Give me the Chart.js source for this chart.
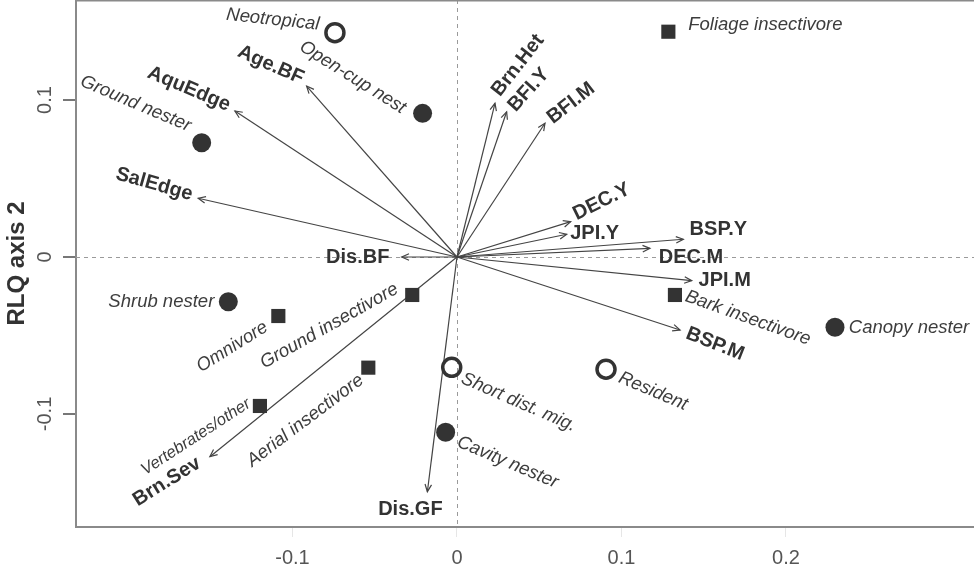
<!DOCTYPE html>
<html><head><meta charset="utf-8">
<script src="https://cdn.jsdelivr.net/npm/chart.js@4.4.1/dist/chart.umd.min.js"></script>
<style>html,body{margin:0;padding:0;background:#fff;}#wrap{width:974px;height:569px;position:relative;}</style>
</head><body><div id="wrap"><canvas id="c"></canvas></div>
<script>
// ---- data ----
const traitNames = ['Neotropical','Resident','Short dist. mig.','Open-cup nest','Ground nester','Shrub nester','Cavity nester','Canopy nester','Foliage insectivore','Omnivore','Ground insectivore','Aerial insectivore','Vertebrates/other','Bark insectivore'];
const traitX = [-0.0742, 0.0906, -0.0032, -0.0209, -0.1552, -0.1390, -0.0069, 0.2298, 0.1285, -0.1086, -0.0272, -0.0539, -0.1198, 0.1325];
const traitY = [0.1429, -0.0715, -0.0703, 0.0915, 0.0728, -0.0285, -0.1117, -0.0448, 0.1435, -0.0376, -0.0242, -0.0705, -0.0949, -0.0242];
const traitGroup = ['migration','migration','migration','nest','nest','nest','nest','nest','diet','diet','diet','diet','diet','diet'];

const envNames = ['Age.BF','AquEdge','SalEdge','Dis.BF','Brn.Het','BFI.Y','BFI.M','DEC.Y','JPI.Y','BSP.Y','DEC.M','JPI.M','BSP.M','Brn.Sev','Dis.GF'];
const envX = [-0.0914,-0.1350,-0.1573,-0.0336,0.0231,0.0302,0.0535,0.0691,0.0667,0.1376,0.1173,0.1427,0.1356,-0.1502,-0.0180];
const envY = [0.1089,0.0930,0.0374,0.0000,0.0979,0.0925,0.0852,0.0225,0.0145,0.0113,0.0055,-0.0151,-0.0465,-0.1272,-0.1495];

const xTicks = [-0.1, 0, 0.1, 0.2];
const yTicks = [-0.1, 0, 0.1];
const yTitle = 'RLQ axis 2';

// ---- label layout (pixel offsets from the point, rotation in degrees) ----
const traitLabelLayout = {
  'Neotropical': [-62,-13,6],
  'Resident': [47,22,23],
  'Short dist. mig.': [67,35,23.5],
  'Open-cup nest': [-70,-36,32],
  'Ground nester': [-66,-39,23],
  'Shrub nester': [-67,0,0],
  'Cavity nester': [62,30,23],
  'Canopy nester': [74,1,0],
  'Foliage insectivore': [97,-7,0],
  'Omnivore': [-46,31,-32],
  'Ground insectivore': [-83,31,-29.5],
  'Aerial insectivore': [-63,53,-37],
  'Vertebrates/other': [-64,31,-33],
  'Bark insectivore': [73,23,19.7]
};
const envLabelLayout = {
  'Age.BF': [-36,-21,24],
  'AquEdge': [-46,-22,23],
  'SalEdge': [-44,-14,15.5],
  'Dis.BF': [-44,0,0],
  'Brn.Het': [23,-38,-52],
  'BFI.Y': [22,-22,-48],
  'BFI.M': [26,-20,-38],
  'DEC.Y': [31,-20,-26.5],
  'JPI.Y': [28,-1,0],
  'BSP.Y': [35,-10,0],
  'DEC.M': [41,9,0],
  'JPI.M': [33,0,0],
  'BSP.M': [35,14,21.5],
  'Brn.Sev': [-43,25,-32],
  'Dis.GF': [-17,18,0]
};

const FAMILY = '"Liberation Sans", Arial, Helvetica, sans-serif';
Chart.defaults.font.family = FAMILY;

const groupStyle = {
  nest: {pointStyle:'circle', radius:9.5, backgroundColor:'#333', borderColor:'#333', borderWidth:0},
  migration: {pointStyle:'circle', radius:9, backgroundColor:'rgba(255,255,255,0)', borderColor:'#333', borderWidth:3.5},
  diet: {pointStyle:'rect', radius:10, backgroundColor:'#333', borderColor:'#333', borderWidth:0}
};

const datasets = [];
['nest','migration','diet'].forEach(g => {
  const pts = [];
  traitNames.forEach((n,i) => { if (traitGroup[i] === g) pts.push({x: traitX[i], y: traitY[i], name: n}); });
  const s = groupStyle[g];
  datasets.push({
    label: g, data: pts, order: 0, showLine: false, clip: false,
    pointStyle: s.pointStyle, pointRadius: s.radius, pointHoverRadius: s.radius,
    pointBackgroundColor: s.backgroundColor, pointBorderColor: s.borderColor, pointBorderWidth: s.borderWidth
  });
});
envNames.forEach((n,i) => {
  datasets.push({
    label: n, data: [{x:0,y:0},{x:envX[i],y:envY[i]}], order: 1, showLine: true, clip: false,
    borderColor:'#444', borderWidth:1.2, pointRadius:0, fill:false, isArrow:true
  });
});

function drawText(ctx, txt, x, y, rot, font, color) {
  ctx.save();
  ctx.translate(x, y);
  ctx.rotate(rot * Math.PI / 180);
  ctx.font = font; ctx.fillStyle = color;
  ctx.textAlign = 'center'; ctx.textBaseline = 'middle';
  ctx.fillText(txt, 0, 0);
  ctx.restore();
}

const framePlugin = {
  id: 'frame',
  beforeDatasetsDraw(chart) {
    const {ctx, chartArea: a, scales: {x, y}} = chart;
    ctx.save();
    ctx.strokeStyle = '#9a9a9a'; ctx.lineWidth = 1; ctx.setLineDash([4,4]);
    const x0 = Math.round(x.getPixelForValue(0)) + 0.5, y0 = Math.round(y.getPixelForValue(0)) + 0.5;
    ctx.beginPath(); ctx.moveTo(x0, a.top); ctx.lineTo(x0, a.bottom); ctx.stroke();
    ctx.beginPath(); ctx.moveTo(a.left, y0); ctx.lineTo(a.right, y0); ctx.stroke();
    ctx.setLineDash([]);
    ctx.strokeStyle = '#8a8a8a'; ctx.lineWidth = 2;
    ctx.beginPath(); ctx.moveTo(a.left, a.top + 0.5); ctx.lineTo(a.right, a.top + 0.5); ctx.stroke();
    ctx.restore();
  },
  afterDatasetsDraw(chart) {
    const {ctx, scales: {x, y}} = chart;
    ctx.save();
    // arrowheads
    ctx.strokeStyle = '#444'; ctx.lineWidth = 1.2;
    chart.data.datasets.forEach((ds, di) => {
      if (!ds.isArrow) return;
      const meta = chart.getDatasetMeta(di);
      const p0 = meta.data[0], p1 = meta.data[1];
      const ang = Math.atan2(p1.y - p0.y, p1.x - p0.x);
      const L = 8, h = 0.42;
      ctx.beginPath();
      ctx.moveTo(p1.x - L * Math.cos(ang - h), p1.y - L * Math.sin(ang - h));
      ctx.lineTo(p1.x, p1.y);
      ctx.lineTo(p1.x - L * Math.cos(ang + h), p1.y - L * Math.sin(ang + h));
      ctx.stroke();
    });
    // env labels
    envNames.forEach((n, i) => {
      const px = x.getPixelForValue(envX[i]), py = y.getPixelForValue(envY[i]);
      const l = envLabelLayout[n];
      drawText(ctx, n, px + l[0], py + l[1], l[2], 'bold 20px ' + FAMILY, '#333');
    });
    // trait labels
    traitNames.forEach((n, i) => {
      const px = x.getPixelForValue(traitX[i]), py = y.getPixelForValue(traitY[i]);
      const l = traitLabelLayout[n];
      const size = n === 'Vertebrates/other' ? 16.5 : 18.5;
      drawText(ctx, n, px + l[0], py + l[1], l[2], 'italic ' + size + 'px ' + FAMILY, '#3d3d3d');
    });
    ctx.restore();
  }
};

const fmt = v => String(Math.round(v * 10) / 10);
const noPad = s => { s.paddingTop = 0; s.paddingBottom = 0; s.paddingLeft = 0; s.paddingRight = 0; };

new Chart(document.getElementById('c'), {
  type: 'scatter',
  data: { datasets },
  options: {
    responsive: true, maintainAspectRatio: false, animation: false,
    layout: { padding: 0, autoPadding: false },
    plugins: { legend: {display:false}, tooltip: {enabled:false} },
    events: [],
    scales: {
      x: {
        type: 'linear', position: 'bottom', min: -0.2316, max: 0.3143,
        afterBuildTicks: s => { s.ticks = xTicks.map(v => ({value: v})); },
        afterFit: s => { s.height = 42; noPad(s); },
        ticks: { callback: v => fmt(v), font: {size: 20}, color: '#555', padding: 9, maxRotation: 0, autoSkip: false },
        grid: { display: true, drawOnChartArea: false, drawTicks: true, tickLength: 10, color: '#e6e6e6', lineWidth: 1 },
        border: { display: true, color: '#8a8a8a', width: 2 }
      },
      y: {
        type: 'linear', position: 'left', min: -0.172, max: 0.1637,
        afterBuildTicks: s => { s.ticks = yTicks.map(v => ({value: v})); },
        afterFit: s => { s.width = 76; noPad(s); },
        ticks: { callback: v => fmt(v), font: {size: 20}, color: '#555', padding: 0, minRotation: 90, maxRotation: 90, crossAlign: 'center', autoSkip: false },
        grid: { display: true, drawOnChartArea: false, drawTicks: true, tickLength: 13, color: '#777', lineWidth: 2 },
        border: { display: true, color: '#8a8a8a', width: 2 },
        title: { display: true, text: yTitle, font: {size: 24, weight: 'bold'}, color: '#333', padding: {top: 3, bottom: 0} }
      }
    }
  },
  plugins: [framePlugin]
});
</script>
</body></html>
